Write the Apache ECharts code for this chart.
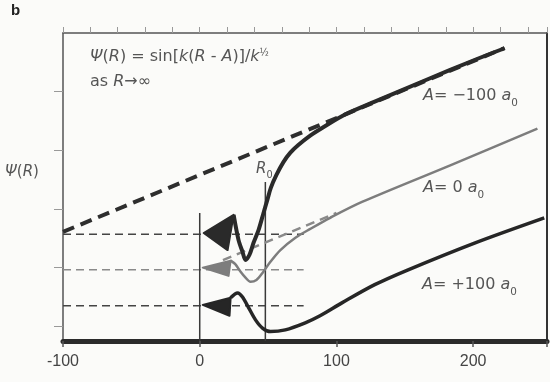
<!DOCTYPE html>
<html><head><meta charset="utf-8">
<script src="https://cdn.jsdelivr.net/npm/echarts@6/dist/echarts.min.js"></script>
<style>html,body{margin:0;padding:0;background:#fbfbf9}#c{width:550px;height:382px}</style>
</head><body><div id="c"></div>
<script>
// ---- data ----
const xTickLabels = [-100, 0, 100, 200];
const yTickValues = [0, 1, 2, 3, 4];
const xRange = [-100, 254];
const yRange = [-0.25, 5];

const baselineTop = [[-100, 1.57], [76, 1.57]];
const baselineMid = [[-100, 0.963], [76, 0.963]];
const baselineBot = [[-100, 0.35], [76, 0.35]];

const asymptoteTop = [[-100, 1.61], [223, 4.744]];
const asymptoteMid = [[17, 1.128], [100, 1.933]];

const originLine = [[0, 1.93], [0, -0.25]];
const r0Line = [[48, 2.46], [48, -0.25]];

const curveTop = [[24.8,1.90],[28.4,1.47],[31.3,1.27],[33.5,1.13],[36.4,1.22],[39.3,1.42],[43,1.64],[46.5,1.92],[49.5,2.16],[52,2.36],[56.1,2.58],[61.2,2.80],[66.3,2.96],[72.1,3.09],[80.8,3.25],[89.5,3.38],[106.3,3.61],[128,3.83],[164.6,4.19],[201,4.54],[223,4.74]];
const curveMid = [[22.6,1.12],[26,1.06],[29.9,0.93],[33.5,0.83],[37.1,0.76],[41.5,0.79],[45.9,0.91],[51.7,1.10],[59,1.30],[70,1.51],[80.8,1.66],[95.4,1.85],[118.7,2.12],[182.8,2.74],[247,3.37]];
const curveBot = [[22.6,0.486],[27.7,0.57],[31.3,0.50],[35.7,0.32],[40.8,0.11],[45.9,-0.03],[51.7,-0.09],[62.6,-0.06],[77.2,0.06],[88,0.18],[104,0.40],[128,0.71],[152,0.96],[201,1.42],[252,1.85]];

const headTop = [[2.9,1.59],[24.8,1.90],[20.4,1.30]];
const headMid = [[2.2,1.0],[22.6,1.12],[21.1,0.86]];
const headBot = [[2.2,0.366],[22.6,0.486],[21.8,0.18]];

// ---- chart ----
const heads = [headTop, headMid, headBot];
const headColors = ['#2a2a2a', '#7d7d7d', '#262626'];
const chart = echarts.init(document.getElementById('c'), null, {renderer: 'canvas'});

function line(data, color, width, type, z, smooth) {
  return {type: 'line', data: data, symbol: 'none', smooth: smooth || 0, z: z || 2,
    lineStyle: {color: color, width: width, type: type || 'solid', cap: 'butt'}, silent: true, animation: false};
}

const ff = '"DejaVu Sans", "Liberation Sans", sans-serif';
const txtColor = '#555';
function rich(sz) {
  return {
    n: {fontSize: sz, fontFamily: ff, fill: txtColor, color: txtColor},
    i: {fontSize: sz, fontFamily: ff, fontStyle: 'italic', fill: txtColor, color: txtColor},
    sup: {fontSize: sz * 0.6, fontFamily: ff, fill: txtColor, color: txtColor, verticalAlign: 'top', lineHeight: sz * 1.1},
    sub: {fontSize: sz * 0.65, fontFamily: ff, fill: txtColor, color: txtColor, verticalAlign: 'bottom', lineHeight: sz * 1.5}
  };
}
function label(x, y, text, sz) {
  return {type: 'text', left: x, top: y, silent: true,
    style: {text: text, rich: rich(sz), fill: txtColor, font: sz + 'px ' + ff}};
}

chart.setOption({
  animation: false,
  backgroundColor: '#fbfbf9',
  grid: {left: 63, right: 2, top: 33, bottom: 41, containLabel: false},
  xAxis: [{
    type: 'value', position: 'bottom', min: xRange[0], max: xRange[1], interval: 100,
    axisLine: {show: true, onZero: false, lineStyle: {color: '#2b2b2b', width: 5}},
    axisTick: {show: true, length: 6, lineStyle: {color: '#555', width: 1.5}},
    axisLabel: {color: '#444', fontSize: 16, fontFamily: '"Liberation Sans", Arial, sans-serif', margin: 13,
      formatter: v => xTickLabels.includes(v) ? String(v) : ''},
    splitLine: {show: false}
  }, {
    type: 'value', position: 'top', min: xRange[0], max: xRange[1], interval: 20,
    axisLine: {show: true, onZero: false, lineStyle: {color: '#555', width: 1.5}},
    axisTick: {show: true, length: 6, lineStyle: {color: '#999', width: 1}},
    axisLabel: {show: false}, splitLine: {show: false}
  }],
  yAxis: [{
    type: 'value', position: 'left', min: yRange[0], max: yRange[1],
    axisLine: {show: true, onZero: false, lineStyle: {color: '#555', width: 1.5}},
    axisTick: {show: true, length: 9, customValues: yTickValues, lineStyle: {color: '#999', width: 1}},
    axisLabel: {show: false}, splitLine: {show: false}
  }, {
    type: 'value', position: 'right', min: yRange[0], max: yRange[1],
    axisLine: {show: true, onZero: false, lineStyle: {color: '#333', width: 2}},
    axisTick: {show: false}, axisLabel: {show: false}, splitLine: {show: false}
  }],
  series: [
    line(baselineTop, '#444', 1.5, [8, 5], 2),
    line(baselineMid, '#8a8a8a', 1.5, [8, 5], 2),
    line(baselineBot, '#444', 1.5, [8, 5], 2),
    line(originLine, '#3a3a3a', 1.5, 'solid', 3),
    line(r0Line, '#3a3a3a', 1.5, 'solid', 3),
    line(asymptoteTop, '#2e2e2e', 4, [12, 7], 4),
    line(asymptoteMid, '#8a8a8a', 2.5, [9, 6], 4),
    line(curveMid, '#7d7d7d', 2.5, 'solid', 5, 0.3),
    line(curveTop, '#2a2a2a', 4, 'solid', 6, 0.3),
    line(curveBot, '#262626', 3.5, 'solid', 6, 0.3),
    {
      type: 'custom', z: 7, silent: true, animation: false,
      data: heads.map((h, i) => [i, 0]),
      encode: {x: 0, y: 1},
      renderItem: function (params, api) {
        const idx = api.value(0);
        const pts = heads[idx].map(p => api.coord(p));
        return {type: 'polygon', shape: {points: pts},
          style: {fill: headColors[idx], stroke: headColors[idx], lineWidth: 2, lineJoin: 'round'}};
      }
    }
  ],
  graphic: [
    {type: 'text', left: 11, top: 3, silent: true,
      style: {text: 'b', font: 'bold 15px "Liberation Sans", Arial, sans-serif', fill: '#222'}},
    label(90, 48, '{i|Ψ}{n|(}{i|R}{n|) = sin[}{i|k}{n|(}{i|R}{n| - }{i|A}{n|)]/}{i|k}{sup|½}', 16),
    label(90, 74, '{n|as }{i|R}{n|→∞}', 16),
    label(5, 165, '{i|Ψ}{n|(}{i|R}{n|)}', 15),
    label(256, 162, '{i|R}{sub|0}', 15),
    label(423, 88, '{i|A}{n|= −100 }{i|a}{sub|0}', 16),
    label(423, 180, '{i|A}{n|= 0 }{i|a}{sub|0}', 16),
    label(422, 277, '{i|A}{n|= +100 }{i|a}{sub|0}', 16)
  ]
});
</script></body></html>
